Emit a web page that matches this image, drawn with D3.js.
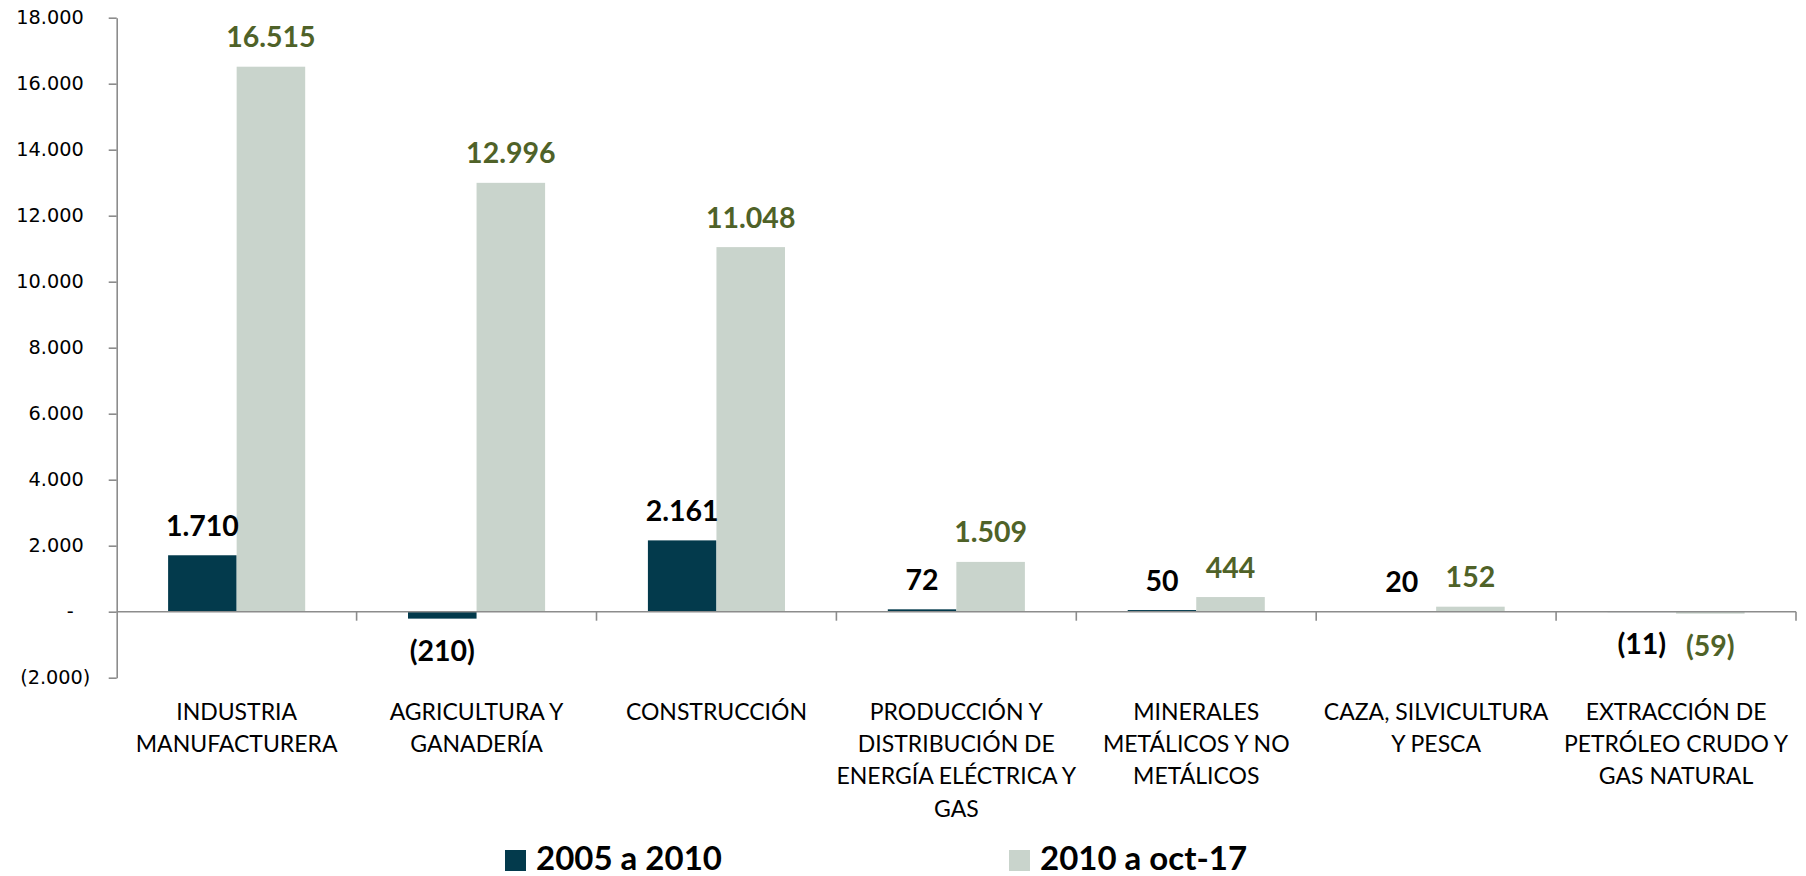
<!DOCTYPE html>
<html>
<head>
<meta charset="utf-8">
<script src="https://cdn.jsdelivr.net/npm/d3@7"></script>
<style>
  html, body { margin: 0; padding: 0; background: #ffffff; }
  svg { display: block; }
</style>
</head>
<body>
<svg id="chart" width="1806" height="876"></svg>
<script>
// ---- data ----
const categories = [
  ["INDUSTRIA", "MANUFACTURERA"],
  ["AGRICULTURA Y", "GANADERÍA"],
  ["CONSTRUCCIÓN"],
  ["PRODUCCIÓN Y", "DISTRIBUCIÓN DE", "ENERGÍA ELÉCTRICA Y", "GAS"],
  ["MINERALES", "METÁLICOS Y NO", "METÁLICOS"],
  ["CAZA, SILVICULTURA", "Y PESCA"],
  ["EXTRACCIÓN DE", "PETRÓLEO CRUDO Y", "GAS NATURAL"]
];
const seriesNames = ["2005 a 2010", "2010 a oct-17"];
const series2005_2010 = [1710, -210, 2161, 72, 50, 20, -11];
const series2010_oct17 = [16515, 12996, 11048, 1509, 444, 152, -59];
const yTickValues = [-2000, 0, 2000, 4000, 6000, 8000, 10000, 12000, 14000, 16000, 18000];

// ---- setup ----
const svg = d3.select("#chart");
const colors = ["#033a4c", "#c9d4cc"];
const labelColors = ["#000000", "#4f6228"];
const axisColor = "#8c8c8c";

const locale = d3.formatLocale({decimal: ",", thousands: ".", grouping: [3], currency: ["", ""]});
const fmtInt = locale.format(",.0f");
const acct = v => v === 0 ? "-" : (v < 0 ? "(" + fmtInt(-v) + ")" : fmtInt(v));

const left = 116.7, right = 1796;
const y = d3.scaleLinear().domain([-2000, 18000]).range([677.7, 17.7]);
const catIdx = categories.map((c, i) => i);
const x = d3.scaleBand().domain(catIdx).range([left, right]).paddingInner(0).paddingOuter(0);
const xs = d3.scaleBand().domain([0, 1]).range([0, x.bandwidth()]).paddingInner(0).paddingOuter(0.75);

const data = [series2005_2010, series2010_oct17];

// ---- bars ----
data.forEach((vals, s) => {
  svg.append("g").selectAll("rect").data(vals).join("rect")
    .attr("x", (d, i) => x(i) + xs(s))
    .attr("width", xs.bandwidth())
    .attr("y", d => y(Math.max(0, d)))
    .attr("height", d => Math.abs(y(d) - y(0)))
    .attr("fill", colors[s]);
});

// ---- y axis ----
const yAxis = d3.axisLeft(y).tickValues(yTickValues).tickSize(8).tickSizeOuter(0).tickPadding(25).tickFormat(acct);
const gy = svg.append("g").attr("transform", `translate(${left},0)`).call(yAxis);
gy.select(".domain").attr("stroke", axisColor).attr("stroke-width", 1.6);
gy.selectAll(".tick line").attr("stroke", axisColor).attr("stroke-width", 1.6);
gy.selectAll(".tick text")
  .attr("fill", "#000")
  .style("font-family", "'DejaVu Sans', Verdana, sans-serif")
  .style("font-size", "19.3px")
  .attr("dx", d => d < 0 ? 6.7 : (d === 0 ? -10 : 0));

// ---- x axis (zero line + category boundary ticks) ----
const gx = svg.append("g");
gx.append("line")
  .attr("x1", left).attr("x2", right)
  .attr("y1", y(0)).attr("y2", y(0))
  .attr("stroke", axisColor).attr("stroke-width", 1.6);
gx.selectAll("line.ct").data(catIdx).join("line").attr("class", "ct")
  .attr("x1", i => x(i) + x.bandwidth()).attr("x2", i => x(i) + x.bandwidth())
  .attr("y1", y(0)).attr("y2", y(0) + 9)
  .attr("stroke", axisColor).attr("stroke-width", 1.6);

// ---- category labels ----
const catG = svg.append("g")
  .style("font-family", "Lato, 'Open Sans', sans-serif")
  .style("font-size", "23px")
  .attr("fill", "#000");
categories.forEach((lines, i) => {
  const t = catG.append("text")
    .attr("text-anchor", "middle")
    .attr("x", x(i) + x.bandwidth() / 2)
    .attr("y", 720);
  lines.forEach((ln, k) => {
    t.append("tspan")
      .attr("x", x(i) + x.bandwidth() / 2)
      .attr("dy", k === 0 ? 0 : 32.2)
      .text(ln);
  });
});

// ---- value labels ----
data.forEach((vals, s) => {
  svg.append("g").selectAll("text").data(vals).join("text")
    .attr("x", (d, i) => x(i) + xs(s) + xs.bandwidth() / 2)
    .attr("y", d => d >= 0 ? y(d) - 19.5 : y(d) + 42)
    .attr("text-anchor", "middle")
    .attr("fill", labelColors[s])
    .style("font-family", "Lato, 'Open Sans', sans-serif")
    .style("font-weight", "bold")
    .style("font-size", "28.5px")
    .text(d => acct(d));
});

// ---- legend ----
const legendX = [505, 1009];
const leg = svg.append("g");
seriesNames.forEach((name, s) => {
  leg.append("rect")
    .attr("x", legendX[s]).attr("y", 850)
    .attr("width", 21).attr("height", 21)
    .attr("fill", colors[s]);
  leg.append("text")
    .attr("x", legendX[s] + 31).attr("y", 870)
    .attr("fill", "#000")
    .style("font-family", "Lato, 'Open Sans', sans-serif")
    .style("font-weight", "bold")
    .style("font-size", "33px")
    .text(name);
});
</script>
</body>
</html>
